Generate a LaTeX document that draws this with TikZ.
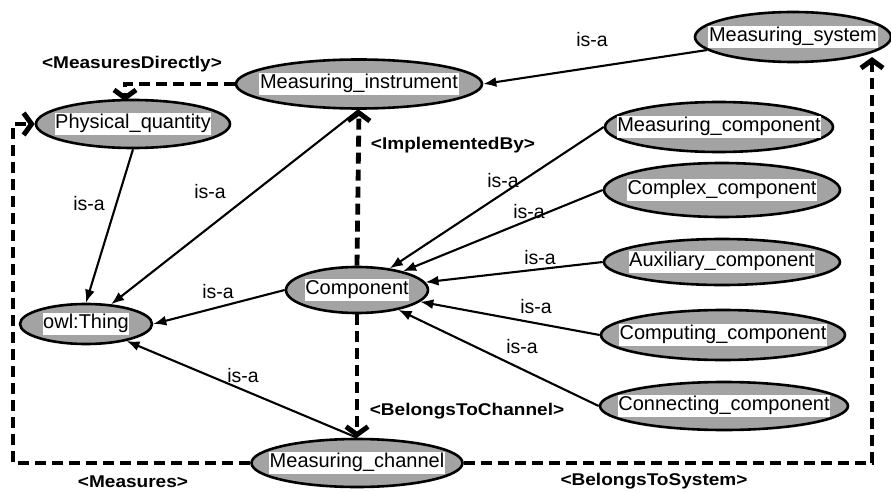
\documentclass[tikz,border=0pt]{standalone}
\usepackage{fontspec}
\setmainfont{Liberation Sans}
\usetikzlibrary{shapes.geometric,arrows.meta}
\newcommand\tb[1]{{\setlength\fboxsep{0.6pt}\colorbox{white}{\strut#1}}}
\newcommand\rl[1]{\scalebox{1.12}[1]{\bfseries #1}}
\tikzset{
  cls/.style={ellipse, draw, line width=2.6pt, fill=black!36, inner sep=0pt},
  isa/.style={line width=2.1pt, -{Latex[length=13pt,width=10pt]}},
  rel/.style={line width=4.8pt, dash pattern=on 11pt off 6pt, -{Straight Barb[length=8pt,width=22pt,line width=5pt]}},
  lab/.style={font=\fontsize{19.5}{20}\selectfont, inner sep=0pt},
  rlab/.style={font=\fontsize{17}{18}\selectfont, inner sep=0pt},
}
\begin{document}
\begin{tikzpicture}[x=1pt,y=-1pt]
\useasboundingbox (0,0) rectangle (891,492);
\fontsize{20}{21}\selectfont
% classes
\node[cls, minimum width=196pt, minimum height=50pt, label={center:\tb{Measuring\_system}}] (ms) at (793,37) {};
\node[cls, minimum width=246pt, minimum height=49pt, label={center:\tb{Measuring\_instrument}}] (mi) at (359,84) {};
\node[cls, minimum width=194pt, minimum height=48pt, label={center:\tb{Physical\_quantity}}] (pq) at (133,124) {};
\node[cls, minimum width=228pt, minimum height=50pt, label={center:\tb{Measuring\_component}}] (mc) at (719,127) {};
\node[cls, minimum width=236pt, minimum height=54pt, label={center:\tb{Complex\_component}}] (cc) at (722,190) {};
\node[cls, minimum width=236pt, minimum height=46pt, label={center:\tb{Auxiliary\_component}}] (ac) at (722,262) {};
\node[cls, minimum width=244pt, minimum height=50pt, label={center:\tb{Computing\_component}}] (cpc) at (723,335) {};
\node[cls, minimum width=248pt, minimum height=48pt, label={center:\tb{Connecting\_component}}] (cnc) at (724,406) {};
\node[cls, minimum width=142pt, minimum height=46pt, label={center:\tb{Component}}] (comp) at (357,290) {};
\node[cls, minimum width=132pt, minimum height=40pt, label={center:\tb{owl:Thing}}] (owl) at (86,324) {};
\node[cls, minimum width=211pt, minimum height=48pt, label={center:\tb{Measuring\_channel}}] (mch) at (357,463) {};
% is-a arrows
\draw[isa] (ms) -- (mi.east);
\draw[isa] (pq.south) -- (owl.north);
\draw[isa] (mi.south) -- (owl);
\draw[isa] (comp.west) -- (owl.east);
\draw[isa] (mch.north) -- (owl);
\draw[isa] (mc.west) -- (comp);
\draw[isa] (cc.west) -- (comp);
\draw[isa] (ac.west) -- (comp);
\draw[isa] (cpc.west) -- (comp);
\draw[isa] (cnc.west) -- (comp);
% is-a labels
\node[lab] (l1) at (592,40) {is-a};
\node[lab] (l2) at (89,204) {is-a};
\node[lab] (l3) at (210,192) {is-a};
\node[lab] (l4) at (218,292) {is-a};
\node[lab] (l5) at (243,376) {is-a};
\node[lab] (l6) at (503,181) {is-a};
\node[lab] (l7) at (529,212) {is-a};
\node[lab] (l8) at (540,258) {is-a};
\node[lab] (l9) at (536,307) {is-a};
\node[lab] (l10) at (522,347) {is-a};
% relations
\coordinate (pqt) at (125,101);
\draw[rel] (mi.west) -| (pqt);
\coordinate (m1) at (13,463);
\coordinate (m2) at (13,124);
\draw[rel] (mch.west) -- (m1) -- (m2) -- (pq.west);
\draw[rel] (comp.north) -- (mi.south);
\draw[rel] (comp.south) -- (mch.north);
\coordinate (bs) at (872,57);
\draw[rel] (mch.east) -| (bs);
% relation labels
\node[rlab] (r1) at (132,64) {\rl{<MeasuresDirectly>}};
\node[rlab] (r2) at (453,145) {\rl{<ImplementedBy>}};
\node[rlab] (r3) at (467,411) {\rl{<BelongsToChannel>}};
\node[rlab] (r4) at (133,482) {\rl{<Measures>}};
\node[rlab] (r5) at (654,481) {\rl{<BelongsToSystem>}};
\end{tikzpicture}
\end{document}
